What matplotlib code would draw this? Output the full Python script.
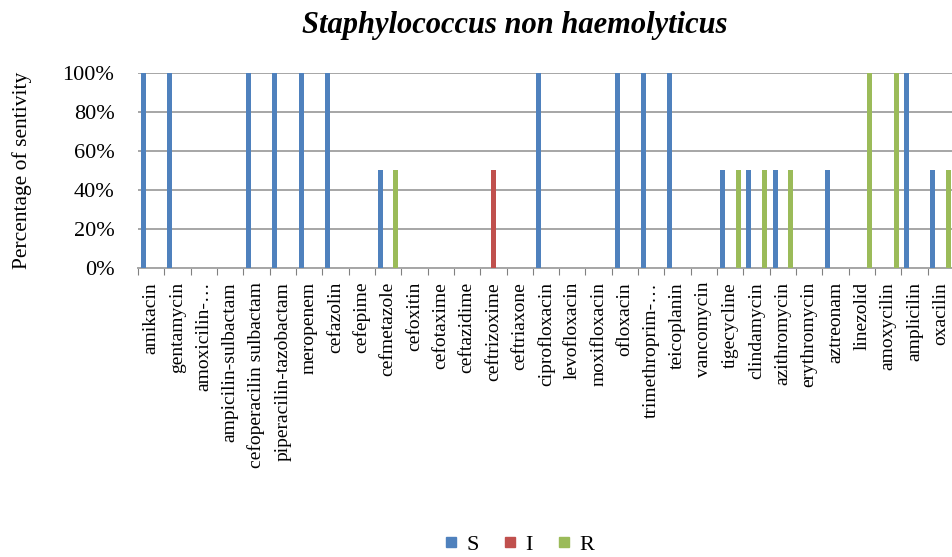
import numpy as np
import matplotlib
matplotlib.use("Agg")
import matplotlib.pyplot as plt
from matplotlib.lines import Line2D
from matplotlib.ticker import FixedLocator, NullFormatter

plt.rcParams["font.family"] = ["Liberation Serif", "DejaVu Serif"]

drugs = [
    "amikacin", "gentamycin", "amoxicilin-\u2026", "ampicilin-sulbactam",
    "cefoperacilin sulbactam", "piperacilin-tazobactam", "meropenem",
    "cefazolin", "cefepime", "cefmetazole", "cefoxitin", "cefotaxime",
    "ceftazidime", "ceftrizoxime", "ceftriaxone", "ciprofloxacin",
    "levofloxacin", "moxifloxacin", "ofloxacin", "trimethroprim-\u2026",
    "teicoplanin", "vancomycin", "tigecycline", "clindamycin",
    "azithromycin", "erythromycin", "aztreonam", "linezolid",
    "amoxycilin", "amplicilin", "oxacilin",
]

S = [100, 100, 0, 0, 100, 100, 100, 100, 0, 50, 0, 0, 0, 0, 0, 100,
     0, 0, 100, 100, 100, 0, 50, 50, 50, 0, 50, 0, 0, 100, 50]
I = [0, 0, 0, 0, 0, 0, 0, 0, 0, 0, 0, 0, 0, 50, 0, 0,
     0, 0, 0, 0, 0, 0, 0, 0, 0, 0, 0, 0, 0, 0, 0]
R = [0, 0, 0, 0, 0, 0, 0, 0, 0, 50, 0, 0, 0, 0, 0, 0,
     0, 0, 0, 0, 0, 0, 50, 50, 50, 0, 0, 100, 100, 0, 50]

blue = "#4F81BD"
red = "#C0504D"
green = "#9BBB59"

fig = plt.figure(figsize=(9.52, 5.57), dpi=100)
ax = fig.add_axes([138 / 952, 1 - 268 / 557, 816 / 952, (268 - 72.5) / 557])

x = np.arange(len(drugs))
w = 0.19
ax.bar(x - 0.3, S, w, color=blue, zorder=3)
ax.bar(x, I, w, color=red, zorder=3)
ax.bar(x + 0.3, R, w, color=green, zorder=3)

ax.set_xlim(-0.5, len(drugs) - 0.5)
ax.set_ylim(0, 100)
ax.set_yticks(range(0, 101, 20))
ax.set_yticklabels([f"{v}%" for v in range(0, 101, 20)], fontsize=16)
ax.yaxis.grid(True, color="#a6a6a6", linewidth=1.4, zorder=0)
ax.tick_params(axis="y", length=0, pad=17)

ax.set_xticks(x)
ax.set_xticklabels(drugs, rotation=90, fontsize=14, va="top", ha="center")
ax.tick_params(axis="x", which="major", length=0, pad=10)
ax.xaxis.set_minor_locator(FixedLocator(np.arange(-0.5, len(drugs), 1)))
ax.xaxis.set_minor_formatter(NullFormatter())
ax.tick_params(axis="x", which="minor", length=5, color="#808080", width=0.8)

for side in ["top", "right", "left"]:
    ax.spines[side].set_visible(False)
ax.spines["bottom"].set_color("#a6a6a6")
ax.spines["bottom"].set_linewidth(1.4)

ax.set_ylabel("Percentage of sentivity", fontsize=15.5)
ax.yaxis.set_label_coords(-0.13, 0.5)

fig.text(515 / 952, 1 - 26 / 557, "Staphylococcus non haemolyticus",
         ha="center", va="center", fontsize=22, fontweight="bold",
         fontstyle="italic")

handles = [Line2D([], [], linestyle="none", marker="s", markersize=7,
                  color=c) for c in (blue, red, green)]
fig.legend(handles, ["S", "I", "R"], loc="center",
           bbox_to_anchor=(519 / 952, 1 - 545 / 557), ncol=3,
           frameon=False, fontsize=16, handlelength=0.6,
           handletextpad=0.4, columnspacing=1.1)

fig.savefig("out.png", dpi=100)
